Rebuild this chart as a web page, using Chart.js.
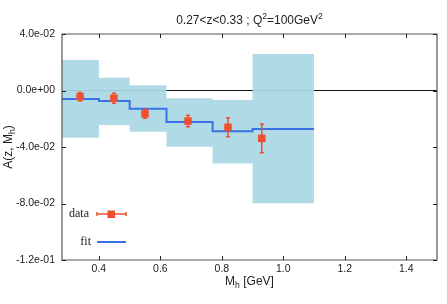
<!DOCTYPE html>
<html>
<head>
<meta charset="utf-8">
<script src="https://cdn.jsdelivr.net/npm/chart.js@4.4.1/dist/chart.umd.min.js"></script>
<style>
  html, body { margin: 0; padding: 0; background: #fff; }
  #c { display: block; }
</style>
</head>
<body>
<canvas id="c" width="447" height="304"></canvas>
<script>
// ---- data ----
const binEdges   = [0.28, 0.40, 0.50, 0.62, 0.77, 0.90, 1.10];
const bandUpper  = [0.0216, 0.0091, 0.0037, -0.0055, -0.0067, 0.0258];
const bandLower  = [-0.0334, -0.0244, -0.0292, -0.0398, -0.0516, -0.0799];
const fitValues  = [-0.0060, -0.0074, -0.0129, -0.0223, -0.0289, -0.0273];
const dataMh     = [0.339, 0.449, 0.550, 0.690, 0.820, 0.930];
const dataA      = [-0.0044, -0.0055, -0.0165, -0.0216, -0.0260, -0.0339];
const dataErr    = [0.0030, 0.0036, 0.0032, 0.0041, 0.0067, 0.0101];
const xTicks     = [0.4, 0.6, 0.8, 1.0, 1.2, 1.4];
const yTicks     = [0.04, 0.0, -0.04, -0.08, -0.12];
const xRange     = [0.28, 1.5];
const yRange     = [-0.12, 0.04];

// ---- helpers ----
function stepPts(vals) {
  const pts = vals.map((v, i) => ({ x: binEdges[i], y: v }));
  pts.push({ x: binEdges[binEdges.length - 1], y: vals[vals.length - 1] });
  return pts;
}
function fmtExp(v) {
  if (Math.abs(v) < 1e-12) return '0.0e+00';
  const s = v.toExponential(1).split('e');
  const sign = s[1][0];
  const d = s[1].slice(1).padStart(2, '0');
  return s[0] + 'e' + sign + d;
}

const RED = '#ee4f2f';
const BLUE = '#3a72e6';
const BAND = 'rgba(171,215,229,0.93)';
const SANS = '"Liberation Sans", Arial, sans-serif';
const SERIF = '"Liberation Serif", "Times New Roman", serif';

function richText(ctx, x, y, parts, size, align) {
  ctx.save();
  let total = 0;
  const ws = parts.map(p => {
    ctx.font = (p.s ? size * 0.72 : size) + 'px ' + SANS;
    const w = ctx.measureText(p.t).width;
    total += w;
    return w;
  });
  let cx = align === 'center' ? x - total / 2 : x;
  ctx.textAlign = 'left';
  ctx.textBaseline = 'alphabetic';
  parts.forEach((p, i) => {
    ctx.font = (p.s ? size * 0.72 : size) + 'px ' + SANS;
    const dy = p.s === 'sup' ? -size * 0.42 : (p.s === 'sub' ? size * 0.28 : 0);
    ctx.fillText(p.t, cx, y + dy);
    cx += ws[i];
  });
  ctx.restore();
}

const decor = {
  id: 'decor',
  afterDatasetsDraw(chart) {
    const ctx = chart.ctx;
    const xs = chart.scales.x, ys = chart.scales.y;
    const a = chart.chartArea;

    // error bars
    ctx.save();
    ctx.strokeStyle = RED;
    ctx.lineWidth = 1.5;
    dataMh.forEach((m, i) => {
      const px = xs.getPixelForValue(m);
      const y1 = ys.getPixelForValue(dataA[i] + dataErr[i]);
      const y2 = ys.getPixelForValue(dataA[i] - dataErr[i]);
      ctx.beginPath();
      ctx.moveTo(px, y1); ctx.lineTo(px, y2);
      ctx.moveTo(px - 2, y1); ctx.lineTo(px + 2, y1);
      ctx.moveTo(px - 2, y2); ctx.lineTo(px + 2, y2);
      ctx.stroke();
    });
    ctx.restore();

    // frame
    ctx.save();
    ctx.lineWidth = 1.2;
    ctx.strokeStyle = '#555';
    ctx.beginPath();
    ctx.moveTo(a.left, a.top); ctx.lineTo(a.right, a.top);
    ctx.lineTo(a.right, a.bottom); ctx.lineTo(a.left, a.bottom);
    ctx.closePath();
    ctx.stroke();

    // inward ticks
    ctx.strokeStyle = '#222';
    ctx.lineWidth = 1;
    const tl = 4;
    ctx.beginPath();
    xTicks.forEach(v => {
      const px = Math.round(xs.getPixelForValue(v)) + 0.5;
      ctx.moveTo(px, a.bottom); ctx.lineTo(px, a.bottom - tl);
      ctx.moveTo(px, a.top); ctx.lineTo(px, a.top + tl);
    });
    yTicks.forEach(v => {
      const py = Math.round(ys.getPixelForValue(v)) + 0.5;
      ctx.moveTo(a.left, py); ctx.lineTo(a.left + tl, py);
      ctx.moveTo(a.right, py); ctx.lineTo(a.right - tl, py);
    });
    ctx.stroke();
    ctx.restore();

    // legend
    ctx.save();
    ctx.font = '12px ' + SERIF;
    ctx.fillStyle = '#222';
    ctx.textAlign = 'right';
    ctx.textBaseline = 'middle';
    ctx.fillText('data', 89, 214);
    ctx.fillText('fit', 91, 242);
    ctx.strokeStyle = RED;
    ctx.lineWidth = 1.5;
    ctx.beginPath();
    ctx.moveTo(97, 214); ctx.lineTo(126, 214);
    ctx.moveTo(97, 212); ctx.lineTo(97, 216);
    ctx.moveTo(126, 212); ctx.lineTo(126, 216);
    ctx.stroke();
    ctx.fillStyle = RED;
    ctx.fillRect(107.5, 210.5, 7.5, 7.5);
    ctx.strokeStyle = BLUE;
    ctx.lineWidth = 2;
    ctx.beginPath();
    ctx.moveTo(97, 242); ctx.lineTo(126, 242);
    ctx.stroke();
    ctx.restore();

    // title and axis titles
    ctx.save();
    ctx.fillStyle = '#222';
    const cx = (a.left + a.right) / 2;
    richText(ctx, cx, 24, [{ t: '0.27<z<0.33 ; Q' }, { t: '2', s: 'sup' }, { t: '=100GeV' }, { t: '2', s: 'sup' }], 12, 'center');
    richText(ctx, cx, 285, [{ t: 'M' }, { t: 'h', s: 'sub' }, { t: ' [GeV]' }], 12, 'center');
    ctx.translate(12, (a.top + a.bottom) / 2);
    ctx.rotate(-Math.PI / 2);
    richText(ctx, 0, 0, [{ t: 'A(z, M' }, { t: 'h', s: 'sub' }, { t: ')' }], 12, 'center');
    ctx.restore();
  }
};

const chart = new Chart(document.getElementById('c'), {
  type: 'line',
  data: {
    datasets: [
      { label: 'zero', data: [{ x: xRange[0], y: 0 }, { x: xRange[1], y: 0 }],
        borderColor: '#111', borderWidth: 1, pointRadius: 0, fill: false, order: 4 },
      { label: 'band', data: stepPts(bandUpper), stepped: 'before',
        borderColor: 'rgba(0,0,0,0)', borderWidth: 1, pointRadius: 0,
        fill: '+1', backgroundColor: BAND, order: 3 },
      { label: 'band lower', data: stepPts(bandLower), stepped: 'before',
        borderColor: 'rgba(0,0,0,0)', borderWidth: 1, pointRadius: 0, fill: false, order: 3 },
      { label: 'fit', data: stepPts(fitValues), stepped: 'before',
        borderColor: BLUE, borderWidth: 2, pointRadius: 0, fill: false, order: 2 },
      { label: 'data', data: dataMh.map((m, i) => ({ x: m, y: dataA[i] })), showLine: false,
        pointStyle: 'rect', pointRadius: 5.3, backgroundColor: RED, borderColor: RED,
        borderWidth: 0, order: 1 }
    ]
  },
  options: {
    responsive: false,
    animation: false,
    devicePixelRatio: 1,
    layout: { padding: { left: 0, right: 10, top: 34, bottom: 0 } },
    plugins: {
      legend: { display: false },
      title: { display: false },
      tooltip: { enabled: false },
      filler: { drawTime: 'beforeDatasetDraw' }
    },
    scales: {
      x: {
        type: 'linear', min: xRange[0], max: xRange[1],
        grid: { display: false, drawTicks: false }, border: { display: false },
        afterBuildTicks: s => { s.ticks = xTicks.map(v => ({ value: v })); },
        afterFit: s => { s.height = 44; },
        ticks: { padding: 3, maxRotation: 0, autoSkip: false, color: '#222',
                 font: { family: SANS, size: 10.5 }, callback: v => Number(v).toFixed(1) }
      },
      y: {
        type: 'linear', min: yRange[0], max: yRange[1],
        grid: { display: false, drawTicks: false }, border: { display: false },
        afterBuildTicks: s => { s.ticks = yTicks.map(v => ({ value: v })); },
        afterFit: s => { s.width = 62; },
        ticks: { padding: 7, autoSkip: false, color: '#222',
                 font: { family: SANS, size: 10.5 }, callback: v => fmtExp(Number(v)) }
      }
    }
  },
  plugins: [decor]
});
</script>
</body>
</html>
